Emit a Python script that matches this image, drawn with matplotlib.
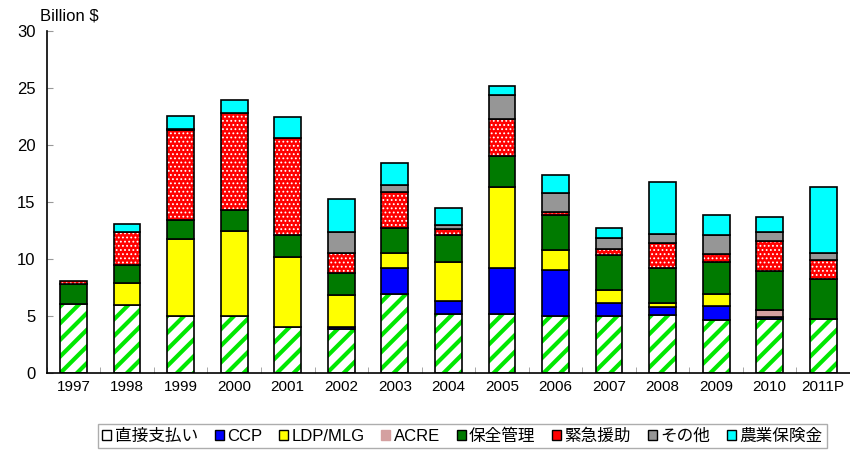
import matplotlib
matplotlib.use("Agg")
from matplotlib import pyplot as plt
from matplotlib.patches import Patch
import numpy as np

plt.rcParams['font.family'] = ['Liberation Sans', 'Noto Sans CJK JP', 'DejaVu Sans']

years = ["1997", "1998", "1999", "2000", "2001", "2002", "2003", "2004",
         "2005", "2006", "2007", "2008", "2009", "2010", "2011P"]

direct = [6.05, 5.96, 5.0, 5.0, 4.0, 3.83, 6.93, 5.18, 5.15, 5.0, 5.0, 5.09, 4.68, 4.77, 4.71]
ccp = [0, 0, 0, 0, 0, 0.2, 2.31, 1.17, 4.09, 4.04, 1.14, 0.7, 1.2, 0.17, 0]
ldp = [0, 1.9, 6.8, 7.5, 6.15, 2.8, 1.31, 3.42, 7.06, 1.78, 1.11, 0.32, 1.08, 0, 0]
acre = [0, 0, 0, 0, 0, 0, 0, 0, 0, 0, 0, 0, 0, 0.56, 0]
conserv = [1.75, 1.58, 1.6, 1.77, 1.95, 1.96, 2.17, 2.36, 2.74, 3.01, 3.1, 3.13, 2.81, 3.45, 3.56]
emerg = [0.28, 2.9, 7.9, 8.56, 8.5, 1.7, 3.16, 0.53, 3.21, 0.27, 0.5, 2.13, 0.63, 2.65, 1.61]
other = [0, 0, 0.15, 0, 0, 1.87, 0.62, 0.29, 2.14, 1.66, 0.96, 0.85, 1.73, 0.74, 0.65]
insur = [0, 0.75, 1.1, 1.12, 1.86, 2.93, 1.9, 1.52, 0.79, 1.61, 0.88, 4.5, 1.73, 1.37, 5.8]

labels = ["直接支払い", "CCP", "LDP/MLG", "ACRE", "保全管理", "緊急援助", "その他", "農業保険金"]
colors = ["white", "#0000FF", "#FFFF00", "#D4A0A0", "#007A00", "#FF0000", "#969696", "#00FFFF"]
series = [direct, ccp, ldp, acre, conserv, emerg, other, insur]

fig = plt.figure(figsize=(8.5, 4.5), dpi=100)
ax = fig.add_axes([0.055, 0.171, 0.945, 0.76])

x = np.arange(len(years))
w = 0.5
bottom = np.zeros(len(years))
for i, vals in enumerate(series):
    vals = np.array(vals)
    if i == 0:
        # white bar with thick green diagonal stripes
        with plt.rc_context({'hatch.linewidth': 3.0}):
            ax.bar(x, vals, w, bottom=bottom, color='white', edgecolor='#00E800',
                   hatch='//', lw=0)
    elif i == 5:
        # red bar with white dots
        with plt.rc_context({'hatch.linewidth': 0.8}):
            ax.bar(x, vals, w, bottom=bottom, color='#FF0000', edgecolor='white',
                   hatch='....', lw=0)
    else:
        ax.bar(x, vals, w, bottom=bottom, color=colors[i], lw=0)
    mask = vals > 0
    ax.bar(x[mask], vals[mask], w, bottom=bottom[mask], fill=False,
           edgecolor='black', lw=1.2)
    bottom += vals

ax.set_xlim(-0.5, len(years) - 0.5)
ax.set_ylim(0, 30)
ax.set_yticks(range(0, 31, 5))
ax.set_xticks(x)
ax.set_xticklabels(years, fontsize=11)
ax.set_xticks(np.arange(-0.5, len(years), 1), minor=True)
ax.tick_params(axis='x', which='major', length=0, pad=5)
ax.tick_params(axis='x', which='minor', direction='in', length=4, color='#999999')
ax.tick_params(axis='y', direction='in', length=4, color='#999999', labelsize=12, pad=8)
ax.spines['top'].set_visible(False)
ax.spines['right'].set_visible(False)
ax.spines['left'].set_linewidth(1.2)
ax.spines['bottom'].set_linewidth(1.2)

fig.text(0.047, 0.965, "Billion $", fontsize=12, ha='left', va='center')

handles = []
for i, lab in enumerate(labels):
    ec = colors[i] if i == 3 else 'black'
    handles.append(Patch(facecolor=colors[i], edgecolor=ec, lw=1))
leg = fig.legend(handles, labels, loc='center', bbox_to_anchor=(0.544, 0.031),
                 ncol=8, fontsize=12, handlelength=0.55, handleheight=0.55,
                 handletextpad=0.2, columnspacing=1.0, frameon=True,
                 fancybox=False, borderpad=0.25)
leg.get_frame().set_edgecolor('#999999')
leg.get_frame().set_linewidth(1)

plt.savefig("out.png")
